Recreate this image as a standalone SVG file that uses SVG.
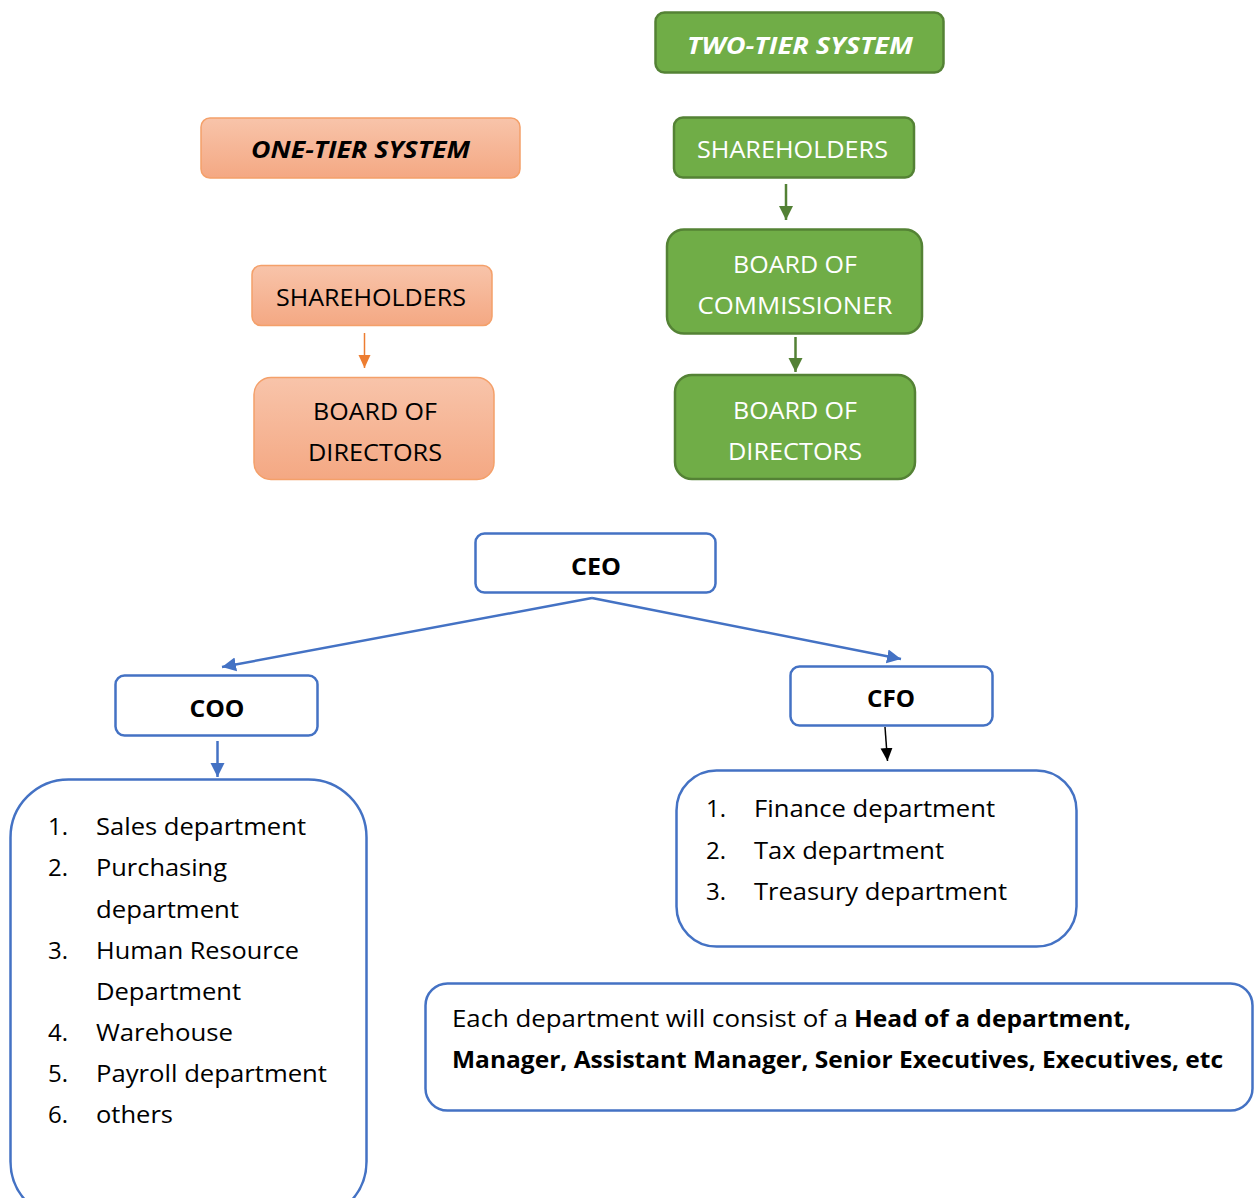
<svg xmlns="http://www.w3.org/2000/svg" width="1259" height="1198" viewBox="0 0 1259 1198">
<style>
text{font-family:"Open Sans","Noto Sans","Liberation Sans",sans-serif;font-size:24px;}
.c{text-anchor:middle;}
.bi{font-weight:bold;font-style:italic;}
.b{font-weight:bold;}
.w{fill:#ffffff;}
.k{fill:#000000;}
.or{fill:url(#og);stroke:#f4a06a;stroke-width:1.5;}
.gr{fill:#70ad47;stroke:#548235;stroke-width:2.5;}
.bl{fill:#ffffff;stroke:#4472c4;stroke-width:2.5;}
</style>
<defs>
<linearGradient id="og" x1="0" y1="0" x2="0" y2="1">
<stop offset="0" stop-color="#f8c4aa"/>
<stop offset="1" stop-color="#f4a883"/>
</linearGradient>
<marker id="ao" markerUnits="userSpaceOnUse" markerWidth="14" markerHeight="14" refX="13" refY="7" orient="auto"><path d="M0,1 L13,7 L0,13 z" fill="#ed7d31"/></marker>
<marker id="ag" markerUnits="userSpaceOnUse" markerWidth="16" markerHeight="16" refX="14" refY="8" orient="auto"><path d="M0,1 L14,8 L0,15 z" fill="#538135"/></marker>
<marker id="ab" markerUnits="userSpaceOnUse" markerWidth="16" markerHeight="16" refX="14" refY="8" orient="auto"><path d="M0,1 L14,8 L0,15 z" fill="#4472c4"/></marker>
<marker id="ak" markerUnits="userSpaceOnUse" markerWidth="14" markerHeight="14" refX="13" refY="7" orient="auto"><path d="M0,1 L13,7 L0,13 z" fill="#000000"/></marker>
</defs>

<g id="one-tier-title">
<rect class="or" x="201" y="118" width="319" height="60" rx="9"/>
<text class="c bi k" x="360.5" y="158" textLength="219" lengthAdjust="spacingAndGlyphs">ONE-TIER SYSTEM</text>
</g>
<g id="two-tier-title">
<rect class="gr" x="655.5" y="12.5" width="288" height="60" rx="9"/>
<text class="c bi w" x="800" y="54" textLength="226" lengthAdjust="spacingAndGlyphs">TWO-TIER SYSTEM</text>
</g>
<g id="one-shareholders">
<rect class="or" x="252" y="265.5" width="240" height="60" rx="9"/>
<text class="c k" x="371" y="306" textLength="190" lengthAdjust="spacingAndGlyphs">SHAREHOLDERS</text>
</g>
<g id="one-directors">
<rect class="or" x="254" y="377.5" width="240" height="102" rx="17"/>
<text class="c k" x="375" y="420" textLength="124" lengthAdjust="spacingAndGlyphs">BOARD OF</text>
<text class="c k" x="375" y="461" textLength="134" lengthAdjust="spacingAndGlyphs">DIRECTORS</text>
</g>
<g id="two-shareholders">
<rect class="gr" x="674" y="117.5" width="240" height="60" rx="9"/>
<text class="c w" x="792.5" y="158" textLength="191" lengthAdjust="spacingAndGlyphs">SHAREHOLDERS</text>
</g>
<g id="two-commissioner">
<rect class="gr" x="667" y="229.5" width="255" height="104" rx="17"/>
<text class="c w" x="795" y="273" textLength="124" lengthAdjust="spacingAndGlyphs">BOARD OF</text>
<text class="c w" x="795" y="314" textLength="195" lengthAdjust="spacingAndGlyphs">COMMISSIONER</text>
</g>
<g id="two-directors">
<rect class="gr" x="675" y="375" width="240" height="104" rx="17"/>
<text class="c w" x="795" y="419" textLength="124" lengthAdjust="spacingAndGlyphs">BOARD OF</text>
<text class="c w" x="795" y="460" textLength="134" lengthAdjust="spacingAndGlyphs">DIRECTORS</text>
</g>
<g id="ceo">
<rect class="bl" x="475.5" y="533.5" width="240" height="59" rx="9"/>
<text class="c b k" x="596" y="575" textLength="50" lengthAdjust="spacingAndGlyphs">CEO</text>
</g>
<g id="coo">
<rect class="bl" x="115.5" y="675.5" width="202" height="60" rx="9"/>
<text class="c b k" x="217" y="717" textLength="55" lengthAdjust="spacingAndGlyphs">COO</text>
</g>
<g id="cfo">
<rect class="bl" x="790.5" y="666.5" width="202" height="59" rx="9"/>
<text class="c b k" x="891" y="707" textLength="48" lengthAdjust="spacingAndGlyphs">CFO</text>
</g>
<g id="coo-departments">
<rect class="bl" x="10.5" y="779.5" width="356" height="440" rx="58"/>
<text class="k" x="48" y="835">1.</text><text class="k" x="96" y="835" textLength="210" lengthAdjust="spacingAndGlyphs">Sales department</text>
<text class="k" x="48" y="876">2.</text><text class="k" x="96" y="876" textLength="131" lengthAdjust="spacingAndGlyphs">Purchasing</text>
<text class="k" x="96" y="918" textLength="143" lengthAdjust="spacingAndGlyphs">department</text>
<text class="k" x="48" y="959">3.</text><text class="k" x="96" y="959" textLength="203" lengthAdjust="spacingAndGlyphs">Human Resource</text>
<text class="k" x="96" y="1000" textLength="145" lengthAdjust="spacingAndGlyphs">Department</text>
<text class="k" x="48" y="1041">4.</text><text class="k" x="96" y="1041" textLength="137" lengthAdjust="spacingAndGlyphs">Warehouse</text>
<text class="k" x="48" y="1082">5.</text><text class="k" x="96" y="1082" textLength="231" lengthAdjust="spacingAndGlyphs">Payroll department</text>
<text class="k" x="48" y="1123">6.</text><text class="k" x="96" y="1123" textLength="77" lengthAdjust="spacingAndGlyphs">others</text>
</g>
<g id="cfo-departments">
<rect class="bl" x="676.5" y="770.5" width="400" height="176" rx="40"/>
<text class="k" x="706" y="817">1.</text><text class="k" x="754" y="817" textLength="241" lengthAdjust="spacingAndGlyphs">Finance department</text>
<text class="k" x="706" y="859">2.</text><text class="k" x="754" y="859" textLength="190" lengthAdjust="spacingAndGlyphs">Tax department</text>
<text class="k" x="706" y="900">3.</text><text class="k" x="754" y="900" textLength="253" lengthAdjust="spacingAndGlyphs">Treasury department</text>
</g>
<g id="note">
<rect class="bl" x="425.5" y="983.5" width="827" height="127" rx="22"/>
<text class="k" x="452" y="1027" textLength="396" lengthAdjust="spacingAndGlyphs">Each department will consist of a</text>
<text class="b k" x="854" y="1027" textLength="277" lengthAdjust="spacingAndGlyphs">Head of a department,</text>
<text class="b k" x="452" y="1068" textLength="771" lengthAdjust="spacingAndGlyphs">Manager, Assistant Manager, Senior Executives, Executives, etc</text>
</g>

<g id="connectors" fill="none">
<line x1="364.5" y1="333" x2="364.5" y2="368" stroke="#ed7d31" stroke-width="1.5" marker-end="url(#ao)"/>
<line x1="786" y1="184" x2="786" y2="220" stroke="#538135" stroke-width="2.5" marker-end="url(#ag)"/>
<line x1="795.5" y1="337" x2="795.5" y2="372" stroke="#538135" stroke-width="2.5" marker-end="url(#ag)"/>
<line x1="592" y1="598" x2="222" y2="667" stroke="#4472c4" stroke-width="2.5" marker-end="url(#ab)"/>
<line x1="592" y1="598" x2="901" y2="659" stroke="#4472c4" stroke-width="2.5" marker-end="url(#ab)"/>
<line x1="217.5" y1="741" x2="217.5" y2="777" stroke="#4472c4" stroke-width="2.5" marker-end="url(#ab)"/>
<line x1="885" y1="727" x2="887.5" y2="761" stroke="#000000" stroke-width="1.5" marker-end="url(#ak)"/>
</g>
</svg>
